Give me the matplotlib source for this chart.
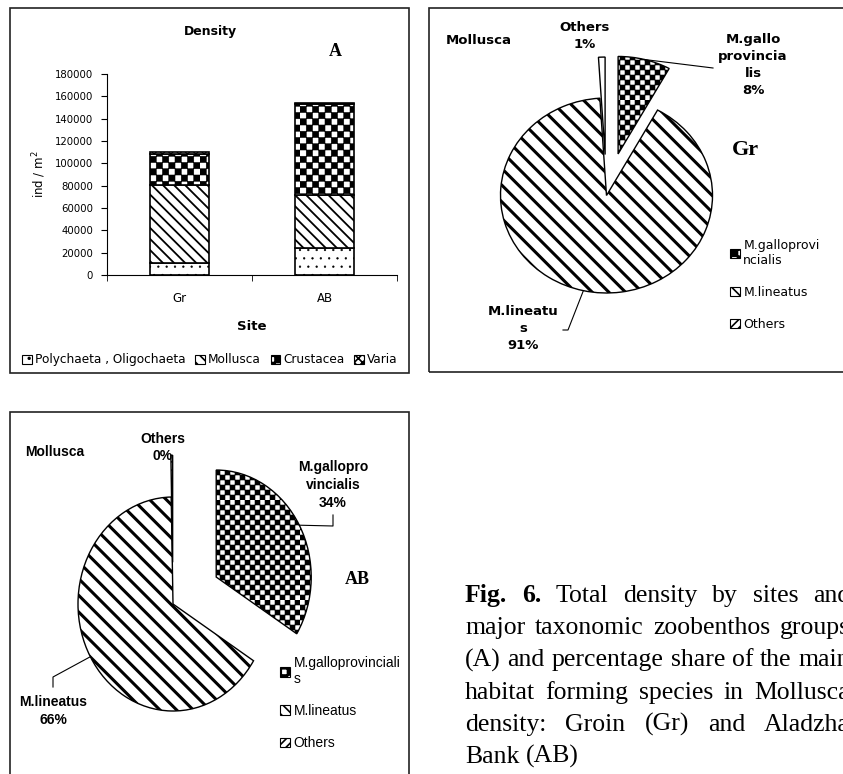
import numpy as np
import matplotlib
matplotlib.use("Agg")
import matplotlib.pyplot as plt
import matplotlib.hatch as mhatch
from matplotlib.path import Path
from matplotlib.patches import Patch, Rectangle
from matplotlib.lines import Line2D

# ---- data ----
sites = ['Gr', 'AB']
groups = ['Polychaeta , Oligochaeta', 'Mollusca', 'Crustacea', 'Varia']
polychaeta = [11000, 24000]
mollusca = [70000, 48000]
crustacea = [27000, 81000]
varia = [2000, 1000]
yticks = list(range(0, 180001, 20000))

species = ['M.galloprovincialis', 'M.lineatus', 'Others']
share_gr = [8, 91, 1]
share_ab = [34, 66, 0.3]
# slice labels as wrapped in the original
names_gr = ['M.gallo\nprovincia\nlis', 'M.lineatu\ns', 'Others']
names_ab = ['M.gallopro\nvincialis', 'M.lineatus', 'Others']
legend_gr = ['M.galloprovi\nncialis', 'M.lineatus', 'Others']
legend_ab = ['M.galloprovinciali\ns', 'M.lineatus', 'Others']

caption = ["Fig. 6. Total density by sites and",
           "major taxonomic zoobenthos groups",
           "(A) and percentage share of the main",
           "habitat forming species in Mollusca",
           "density: Groin (Gr) and Aladzha",
           "Bank (AB)"]


# checkerboard hatch: takes the place of the 'O' pattern
class CheckerHatch(mhatch.HatchPatternBase):
    def __init__(self, hatch, density):
        self.n = hatch.count('O') * 4
        self.num_vertices = (self.n * self.n // 2) * 5

    def set_vertices_and_codes(self, vertices, codes):
        n = self.n
        s = 1.0 / n
        verts = []
        for i in range(n):
            for j in range(n):
                if (i + j) % 2 == 0:
                    a, b = i * s, j * s
                    verts += [(a, b), (a + s, b), (a + s, b + s), (a, b + s), (a, b)]
        vertices[:] = verts
        codes[:] = [Path.MOVETO, Path.LINETO, Path.LINETO, Path.LINETO,
                    Path.CLOSEPOLY] * (n * n // 2)


mhatch._hatch_types = [CheckerHatch if t is mhatch.LargeCircles else t
                       for t in mhatch._hatch_types]

plt.rcParams['font.family'] = 'DejaVu Sans'
plt.rcParams['hatch.linewidth'] = 1.2

W, H = 843, 774
fig = plt.figure(figsize=(W / 100, H / 100), dpi=100)


def fxy(x, y):
    return (x / W, 1 - y / H)


def hatch_lw(p, lw):
    if hasattr(p, 'set_hatch_linewidth'):
        p.set_hatch_linewidth(lw)


# panel frames
for (x0, y0, x1, y1) in [(10, 8, 409, 373), (429, 8, 860, 372), (10, 412, 409, 800)]:
    fig.add_artist(Rectangle(fxy(x0, y1), (x1 - x0) / W, (y1 - y0) / H,
                             transform=fig.transFigure, fill=False,
                             edgecolor='#222222', lw=1.2))

# ---- A: stacked bars ----
ax = fig.add_axes([107 / W, 1 - 275 / H, 290 / W, 201 / H])
x = np.arange(len(sites))
series = [polychaeta, mollusca, crustacea, varia]
hatches = ['..', '\\\\\\', 'OOOO', 'xxxx']
hlws = [0.4, 1.3, 0.4, 0.8]
bottom = np.zeros(len(sites))
for vals, h, lw in zip(series, hatches, hlws):
    bars = ax.bar(x, vals, bottom=bottom, width=0.41, color='white',
                  edgecolor='black', hatch=h, linewidth=1.2)
    for b in bars:
        hatch_lw(b, lw)
    bottom += np.array(vals)

ax.set_xlim(-0.5, 1.5)
ax.set_ylim(0, 180000)
ax.set_yticks(yticks)
ax.set_yticklabels([str(v) for v in yticks])
ax.set_xticks(x)
ax.set_xticklabels(sites)
ax.set_xticks([-0.5, 0.5, 1.5], minor=True)
ax.tick_params(axis='x', which='major', length=0, pad=12, labelsize=8.5)
ax.tick_params(axis='x', which='minor', length=4, direction='out')
ax.tick_params(axis='y', length=4, direction='out', pad=6, labelsize=7.3)
for s in ['top', 'right']:
    ax.spines[s].set_visible(False)
ax.set_xlabel('Site', fontsize=9.5, fontweight='bold', labelpad=11)
ax.set_ylabel('ind / m$^2$', fontsize=8.5, labelpad=5)

fig.text(*fxy(210, 32), 'Density', fontsize=9, fontweight='bold', ha='center', va='center')
fig.text(*fxy(335, 52), 'A', fontsize=13, fontweight='bold', family='Liberation Serif',
         ha='center', va='center')

handles = []
for h in hatches:
    hp = Patch(facecolor='white', edgecolor='black', hatch=h, lw=0.8)
    handles.append(hp)
fig.legend(handles, groups, loc='center', bbox_to_anchor=fxy(210, 360), ncol=4,
           frameon=False, fontsize=8.7, handlelength=0.8, handleheight=0.8,
           handletextpad=0.25, columnspacing=0.8, borderaxespad=0)


# ---- pies ----
def draw_pie(values, cx, cy, rx, ry, explode, hatches, hlw):
    half = 170
    pax = fig.add_axes([(cx - half) / W, 1 - (cy + half) / H, 2 * half / W, 2 * half / H])
    wedges, _ = pax.pie(values, explode=explode, startangle=90, counterclock=False,
                        hatch=hatches, frame=False,
                        wedgeprops=dict(facecolor='white', edgecolor='black', lw=1.0))
    for w, lw in zip(wedges, hlw):
        hatch_lw(w, lw)
    pax.set_aspect('auto')
    pax.set_xlim(-half / rx, half / rx)
    pax.set_ylim(-half / ry, half / ry)
    pax.axis('off')
    return pax, wedges


def leader(pax, wedge, pts):
    th = np.deg2rad((wedge.theta1 + wedge.theta2) / 2)
    c = wedge.center
    p = (c[0] + wedge.r * np.cos(th), c[1] + wedge.r * np.sin(th))
    start = fig.transFigure.inverted().transform(pax.transData.transform(p))
    xs = [start[0]] + [px / W for px, py in pts]
    ys = [start[1]] + [1 - py / H for px, py in pts]
    fig.add_artist(Line2D(xs, ys, color='black', lw=0.8))


def pct(v):
    return '%d%%' % round(v)


# Gr
pax, wg = draw_pie(share_gr, 606.5, 195.5, 106, 97.5, [0.44, 0, 0.42],
                   ['OOOOO', '\\\\', ''], [0.4, 2.2, 1.0])
lab = dict(fontsize=9.5, fontweight='bold', ha='center', va='center', linespacing=1.37)
fig.text(*fxy(446, 40), 'Mollusca', fontsize=9.5, fontweight='bold', va='center')
fig.text(*fxy(585, 36), names_gr[2] + '\n' + pct(share_gr[2]), **lab)
fig.text(*fxy(753, 65), names_gr[0] + '\n' + pct(share_gr[0]), **lab)
fig.text(*fxy(523, 328.5), names_gr[1] + '\n' + pct(share_gr[1]), **lab)
fig.text(*fxy(745, 150), 'Gr', fontsize=16, fontweight='bold', family='Liberation Serif',
         ha='center', va='center')
leader(pax, wg[0], [(713, 68)])
leader(pax, wg[1], [(568, 330), (563, 330)])
ph = [Patch(facecolor='white', edgecolor='black', hatch=h, lw=0.8)
      for h in ['OOOO', '\\\\\\', '////']]
pax.legend(ph, legend_gr, loc='upper left', bbox_to_anchor=fxy(724, 233),
           bbox_transform=fig.transFigure, frameon=False, fontsize=9, borderpad=0,
           handlelength=0.75, handleheight=0.75, handletextpad=0.3, labelspacing=1.5)

# AB
pax, wa = draw_pie(share_ab, 173, 604, 95, 107, [0.52, 0, 0.39],
                   ['OOOOO', '\\\\', '////'], [0.4, 2.2, 0.8])
lab = dict(fontsize=10, fontweight='bold', ha='center', va='center', linespacing=1.35,
           family='Liberation Sans')
fig.text(*fxy(25, 452), 'Mollusca', fontsize=10, fontweight='bold', va='center',
         family='Liberation Sans')
fig.text(*fxy(163, 447.5), names_ab[2] + '\n' + pct(share_ab[2]), **lab)
fig.text(*fxy(333, 485), names_ab[0] + '\n' + pct(share_ab[0]), **lab)
fig.text(*fxy(53, 711), names_ab[1] + '\n' + pct(share_ab[1]), **lab)
fig.text(*fxy(357, 580), 'AB', fontsize=13, fontweight='bold', family='Liberation Serif',
         ha='center', va='center')
leader(pax, wa[0], [(333, 526), (333, 515)])
leader(pax, wa[1], [(53, 677), (53, 687)])
ph = [Patch(facecolor='white', edgecolor='black', hatch=h, lw=0.8)
      for h in ['OOOO', '\\\\\\', '////']]
pax.legend(ph, legend_ab, loc='upper left', bbox_to_anchor=fxy(273, 649),
           bbox_transform=fig.transFigure, frameon=False, borderpad=0,
           prop=dict(family='Liberation Sans', size=10),
           handlelength=0.7, handleheight=0.7, handletextpad=0.3, labelspacing=1.3)

# ---- caption, justified ----
renderer = fig.canvas.get_renderer()
x0, x1 = 465, 850
for k, line in enumerate(caption):
    words = line.split(' ')
    y = 602 + 32.2 * k
    texts = []
    for i, wd in enumerate(words):
        weight = 'bold' if (k == 0 and i < 2) else 'normal'
        texts.append(fig.text(0, 1 - y / H, wd, fontsize=18.5, family='Liberation Serif',
                              fontweight=weight, va='baseline'))
    widths = [t.get_window_extent(renderer).width for t in texts]
    if k < len(caption) - 1:
        gap = (x1 - x0 - sum(widths)) / (len(words) - 1)
    else:
        gap = 0.25 * 18.5 * 100 / 72
    xx = x0
    for t, wdt in zip(texts, widths):
        t.set_x(xx / W)
        xx += wdt + gap

fig.savefig('out.png', dpi=100)
